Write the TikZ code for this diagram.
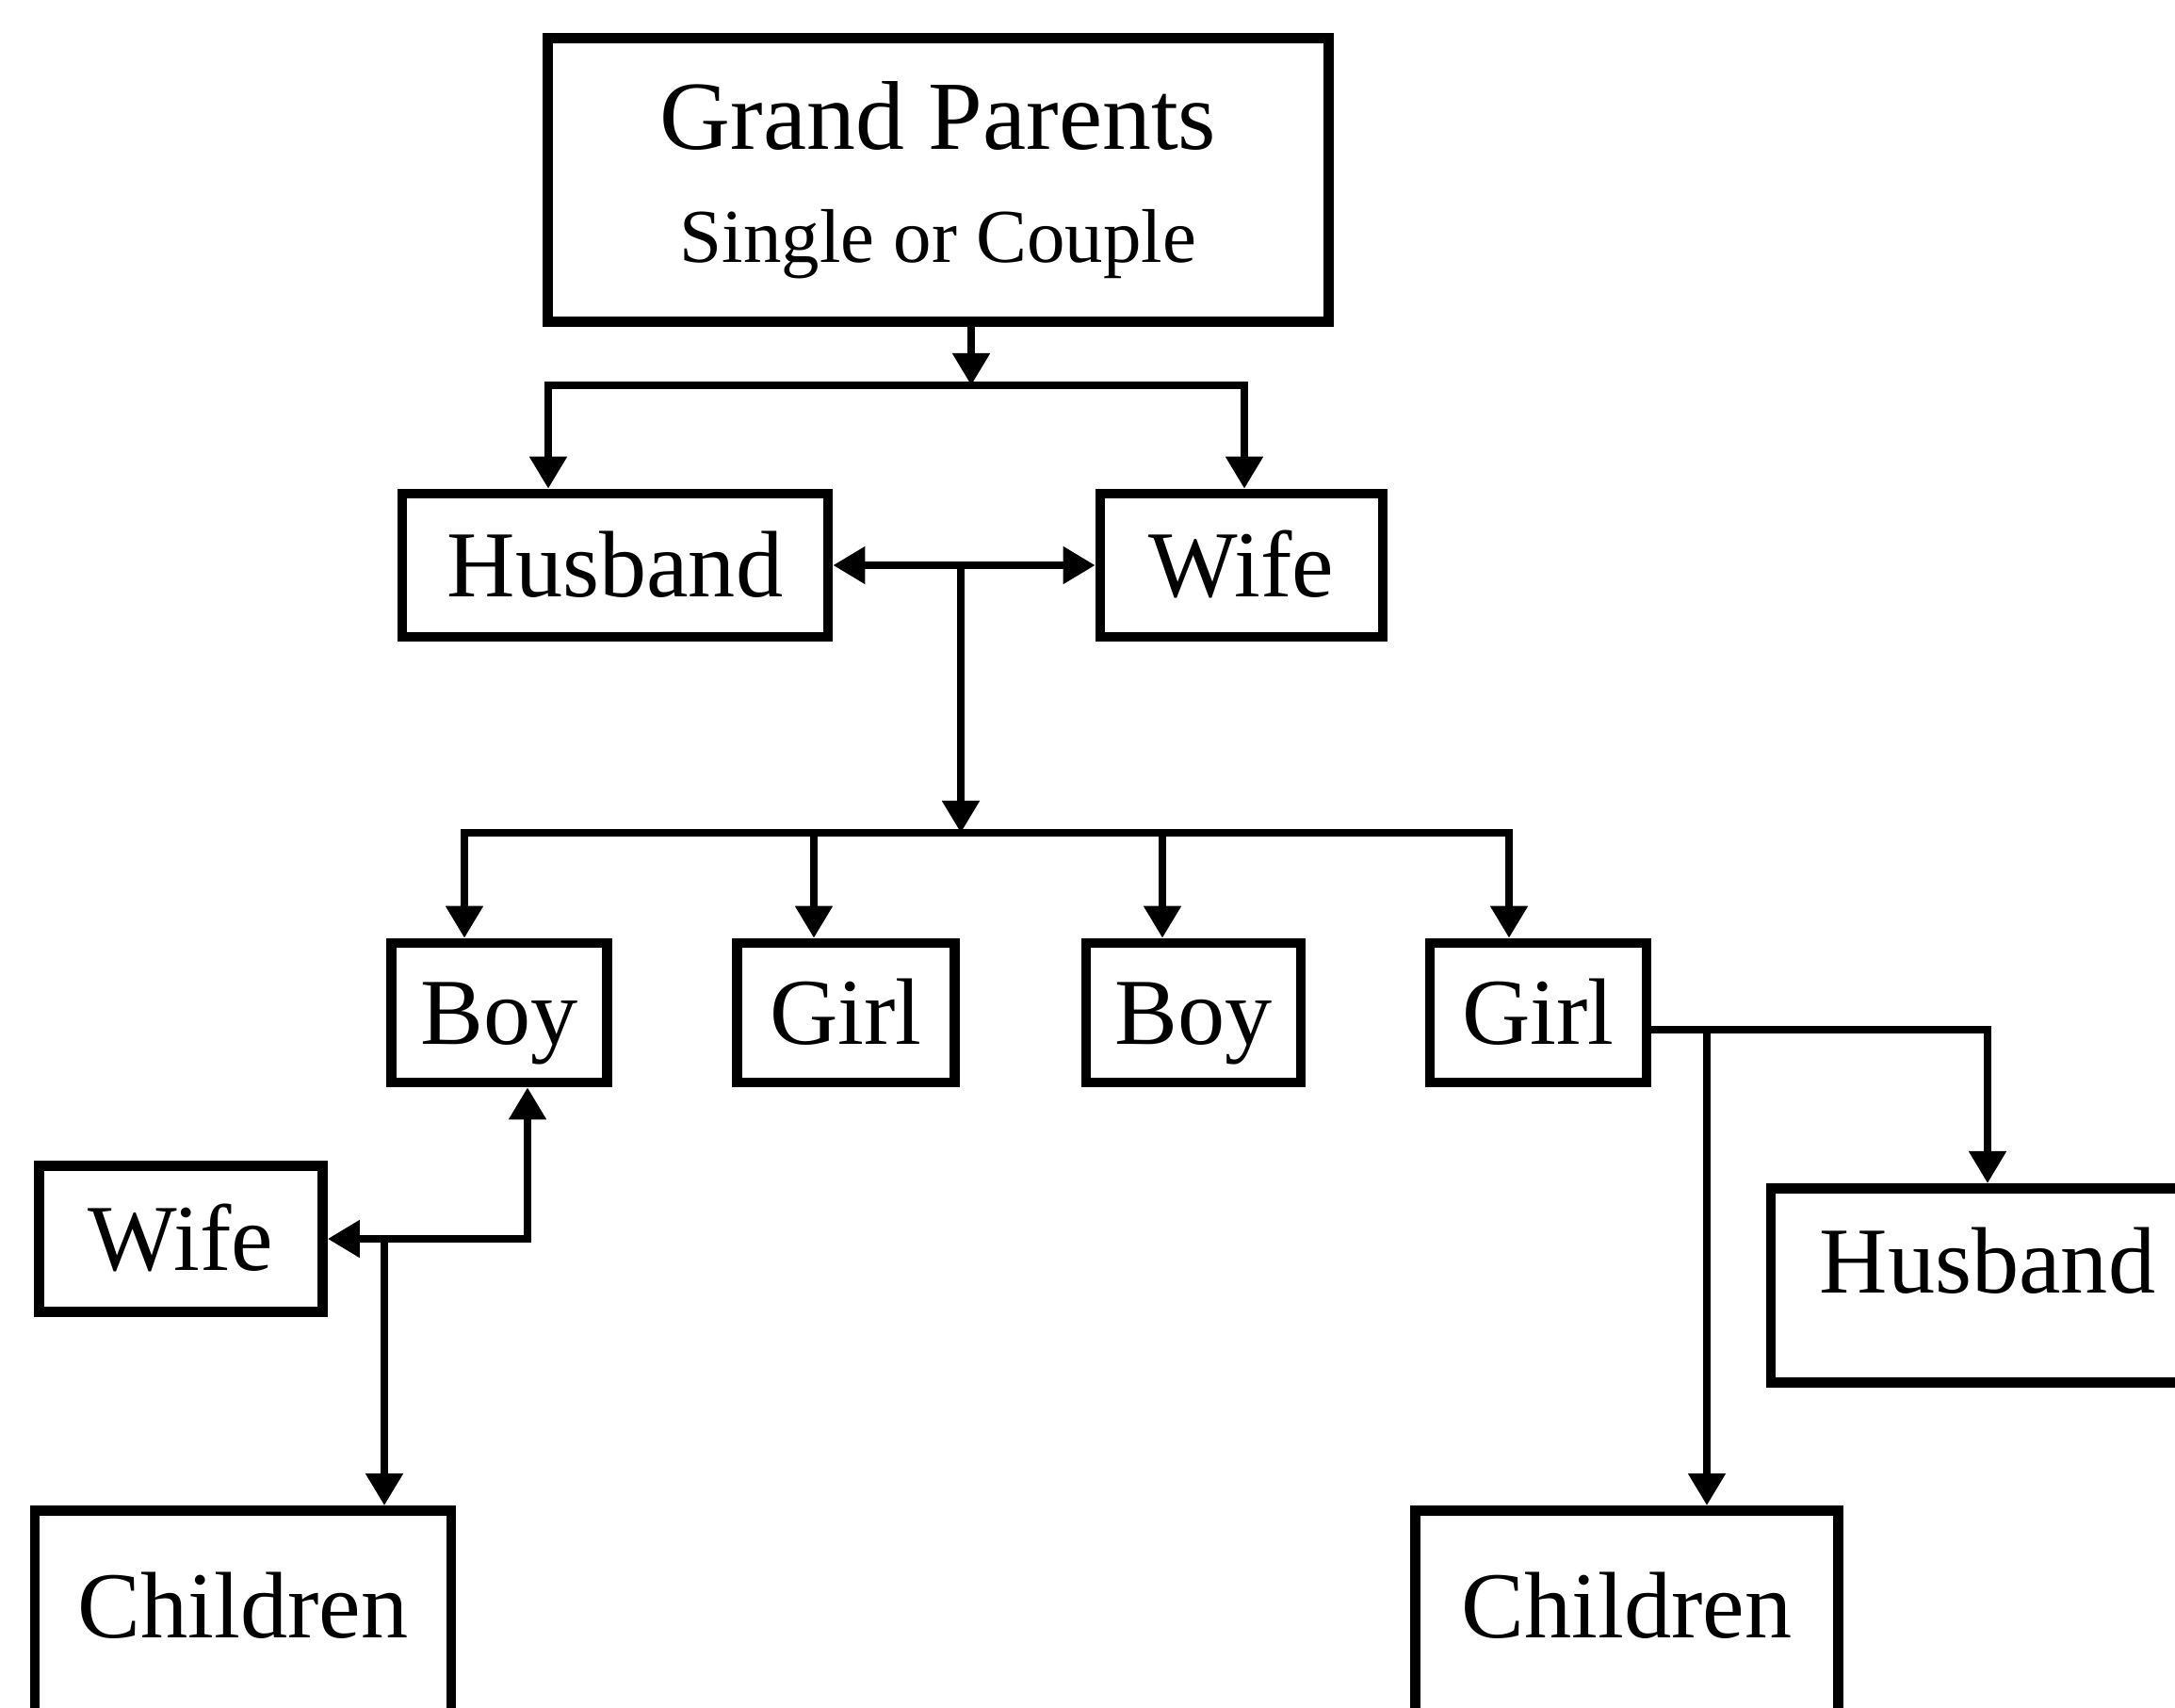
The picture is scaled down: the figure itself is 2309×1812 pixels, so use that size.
\documentclass[tikz,border=0pt]{standalone}
\usepackage{fontspec}
\setmainfont{Liberation Serif}
\usetikzlibrary{arrows.meta}

\begin{document}
\begin{tikzpicture}[x=0.01cm, y=-0.01cm,
    >={Triangle[width=0.38cm,length=0.34cm]},
    box/.style={draw, line width=3pt, inner sep=0pt,
      font=\fontsize{28.5}{34}\selectfont},
    tag/.style={box, text height=0.66cm, text depth=0pt, minimum height=1.52cm},
    link/.style={line width=2.3pt, line cap=rect},
    arr/.style={link, ->}]

\useasboundingbox (0,0) rectangle (2309,1812);
\clip (0,0) rectangle (2309,1812);

% grand parents
\node[box, align=center, minimum width=8.29cm, minimum height=3.01cm] (gp) at (996,191)
  {\fontsize{29.5}{34}\selectfont Grand Parents\\\fontsize{23}{34}\selectfont Single or Couple};

% parents
\node[tag, minimum width=4.52cm] (hus) at (653,600) {Husband};
\node[tag, minimum width=3.00cm] (wif) at (1318,600) {Wife};

% children
\node[tag, minimum width=2.29cm, minimum height=1.48cm] (boy1) at (530,1075) {Boy};
\node[tag, minimum width=2.31cm, minimum height=1.48cm] (girl1) at (898,1075) {Girl};
\node[tag, minimum width=2.28cm, minimum height=1.48cm] (boy2) at (1267,1075) {Boy};
\node[tag, minimum width=2.30cm, minimum height=1.48cm] (girl2) at (1633,1075) {Girl};

% in-laws
\node[tag, minimum width=3.01cm, minimum height=1.55cm] (wif2) at (192,1315) {Wife};
\node[box, anchor=north, minimum width=4.6cm, text height=1.11cm, text depth=0.95cm]
  (hus2) at (2110,1256) {Husband};

% grandchildren
\node[box, anchor=north, minimum width=4.42cm, text height=1.35cm, text depth=1.3cm]
  (kid1) at (258,1598) {Children};
\node[box, anchor=north, minimum width=4.49cm, text height=1.35cm, text depth=1.3cm]
  (kid2) at (1727,1598) {Children};

% grand parents -> parents
\coordinate (gpj) at (1031,409);
\coordinate (barL) at (582,409);
\coordinate (barR) at (1321,409);
\draw[arr] (gp.south -| gpj) -- (gpj);
\draw[link, <->] (barL |- hus.north) -- (barL) -- (barR) -- (barR |- wif.north);

% parents -> children
\draw[link, <->] (hus.east) -- (wif.west);
\coordinate (hwj) at (1020,600);
\coordinate (kidj) at (1020,884);
\draw[arr] (hwj) -- (kidj);
\draw[link] (493,884) coordinate (kL) -- (1602,884) coordinate (kR);
\foreach \kid/\xx in {boy1/493, girl1/864, boy2/1234, girl2/1602}{
  \coordinate (k\kid) at (\xx,884);
  \draw[arr] (k\kid) -- (k\kid |- \kid.north);
}

% boy's family
\coordinate (bj) at (560,1315);
\coordinate (bk) at (408,1315);
\draw[link, <->] (bj |- boy1.south) -- (bj) -- (wif2.east);
\draw[arr] (bk) -- (bk |- kid1.north);

% girl's family
\coordinate (gj) at (2110,1093);
\coordinate (gk) at (1812,1093);
\draw[arr] (gj -| girl2.east) -- (gj) -- (gj |- hus2.north);
\draw[arr] (gk) -- (gk |- kid2.north);

\end{tikzpicture}
\end{document}
